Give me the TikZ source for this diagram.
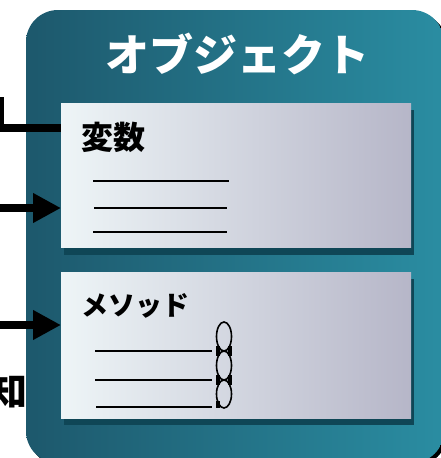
\documentclass[tikz,border=0pt]{standalone}
\usepackage{fontspec}
\newfontfamily\jp{Noto Sans CJK JP}
\usetikzlibrary{arrows.meta}
\definecolor{tealdark}{HTML}{1D586C}
\definecolor{teallight}{HTML}{2A8DA2}
\definecolor{panelL}{HTML}{EEF5F7}
\definecolor{panelR}{HTML}{B6B6C8}
\definecolor{panelshadow}{HTML}{0F4656}
\tikzset{
  outerbox/.style={left color=tealdark, right color=teallight, rounded corners=32pt},
  panelbox/.style={shade, left color=panelL, right color=panelR, inner sep=0pt, anchor=north west, minimum width=350pt},
  rulestroke/.style={line width=2pt, black},
  conn/.style={line width=8pt, black},
  arrowconn/.style={conn, -{Triangle[length=28pt,width=28pt]}},
  chainlink/.style={line width=1.6pt, black},
  label/.style={inner sep=0pt, font=\jp\bfseries}
}
\begin{document}
\begin{tikzpicture}[x=1pt,y=-1pt]
\useasboundingbox (0,0) rectangle (441,458);
\begin{scope}
\clip (0,0) rectangle (441,458);
% outer object box with shadow
\fill[black, rounded corners=32pt] (29,13) rectangle (447,466);
\shade[outerbox] (26,10) rectangle (444,463);
% title
\node[label, text=white, font=\jp\bfseries\fontsize{44}{44}\selectfont] (title) at (237,54) {オブジェクト};
% panel shadows
\fill[panelshadow] (64,110) rectangle (414,255);
\fill[panelshadow] (64,279) rectangle (414,425);
% panels
\node[panelbox, minimum height=144pt] (varpanel) at (61,103) {};
\node[panelbox, minimum height=146pt] (methpanel) at (61,272) {};
% panel texts
\node[label, font=\jp\bfseries\fontsize{32}{32}\selectfont, anchor=west] (vartext) at (81,137) {変数};
\node[label, font=\jp\bfseries\fontsize{27}{27}\selectfont, anchor=west] (methtext) at (81,306) {メソッド};
% variable lines
\draw[rulestroke] (93,181) -- (229,181);
\draw[rulestroke] (94,208) -- (227,208);
\draw[rulestroke] (93,232) -- (227,232);
% method lines
\draw[rulestroke] (95,351) -- (212,351);
\draw[rulestroke] (95,380) -- (212,380);
\draw[rulestroke] (96,407) -- (212,407);
% chain
\draw[chainlink] (224,336.5) ellipse [x radius=7.5pt, y radius=14.5pt];
\draw[chainlink] (224,365.5) ellipse [x radius=7.5pt, y radius=14.5pt];
\draw[chainlink] (224,394) ellipse [x radius=7.5pt, y radius=14pt];
\fill[black] (216,346) rectangle (220,356);
\fill[black] (228,346) rectangle (232,356);
\fill[black] (216,375) rectangle (220,385);
\fill[black] (228,375) rectangle (232,385);
\fill[black] (216,401) rectangle (220,408);
% connectors from outside
\coordinate (c1) at (0,97);
\coordinate (c2) at (0,208);
\coordinate (c3) at (0,325);
\coordinate (v1) at (varpanel.west |- 0,128);
\coordinate (v2) at (varpanel.west |- 0,208);
\coordinate (m1) at (methpanel.west |- 0,325);
\draw[conn] (c1) |- (v1);
\draw[arrowconn] (c2) -- (v2);
\draw[arrowconn] (c3) -- (m1);
% outside text
\node[label, font=\jp\bfseries\fontsize{38}{38}\selectfont, anchor=east] (know) at (28,391) {知};
\end{scope}
\end{tikzpicture}
\end{document}
